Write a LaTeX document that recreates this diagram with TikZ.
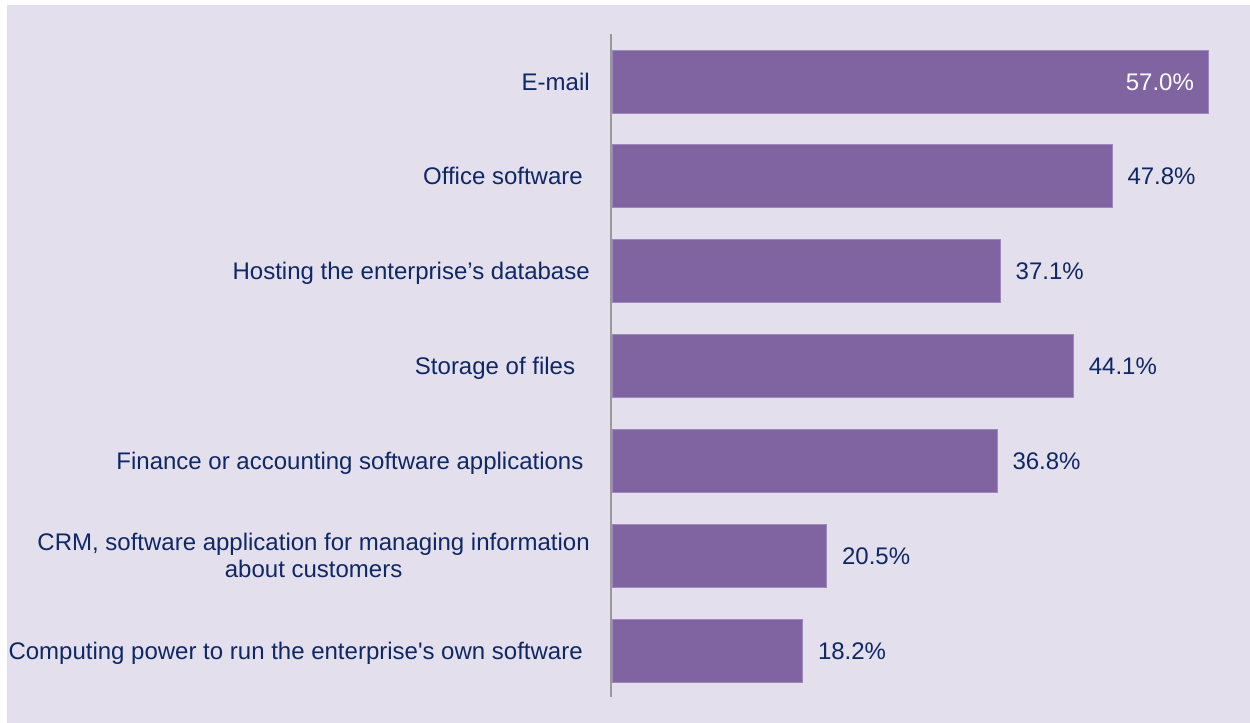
\documentclass[tikz,border=0pt]{standalone}
\usepackage{fontspec}
\setmainfont{Liberation Sans}
\usetikzlibrary{positioning}
\definecolor{chartbg}{HTML}{E4DFEC}
\definecolor{barfill}{HTML}{8064A2}
\definecolor{baredge}{HTML}{9C88BA}
\definecolor{labeltext}{HTML}{0E2866}
\definecolor{axisgray}{HTML}{999999}
\tikzset{
bar/.style={fill=barfill, draw=baredge, line width=0.6pt,
  minimum height=47.25pt, inner sep=0pt, anchor=west},
cat/.style={text=labeltext, inner sep=0pt, text height=12.9pt, text depth=0pt},
val/.style={cat},
%one percent is 7.842pt
}

\begin{document}
\begin{tikzpicture}[x=0.75pt,y=-0.75pt,font=\fontsize{18pt}{20.5pt}\selectfont]
\useasboundingbox (0,0) rectangle (1250,723);
\fill[white] (0,0) rectangle (1250,723);
\fill[chartbg] (7,5) rectangle (1250,723);

\node[bar, minimum width=57.0*7.842pt] (email) at (612,81.5) {};
\node[bar, minimum width=47.8*7.842pt] (office) at (612,176.3) {};
\node[bar, minimum width=37.1*7.842pt] (hosting) at (612,271.2) {};
\node[bar, minimum width=44.1*7.842pt] (storage) at (612,366) {};
\node[bar, minimum width=36.8*7.842pt] (finance) at (612,460.8) {};
\node[bar, minimum width=20.5*7.842pt] (crm) at (612,555.7) {};
\node[bar, minimum width=18.2*7.842pt] (computing) at (612,650.5) {};

\draw[axisgray, line width=1.5pt] (611,34) coordinate (axtop) -- (611,697) coordinate (axbot);

\node[cat, left=16.5pt of email.west] (lemail) {E-mail};
\node[cat, left=21.75pt of office.west] (loffice) {Office software};
\node[cat, left=16.5pt of hosting.west] (lhosting) {Hosting the enterprise’s database};
\node[cat, left=27.5pt of storage.west] (lstorage) {Storage of files};
\node[cat, left=21.25pt of finance.west] (lfinance) {Finance or accounting software applications};
\node[text=labeltext, inner sep=0pt, align=center, left=16.5pt of crm.west] (lcrm)
  {CRM, software application for managing information\\about customers};
\node[cat, left=21.75pt of computing.west] (lcomputing)
  {Computing power to run the enterprise\textquotesingle s own software};

\node[val, text=white, left=11pt of email.east] (vemail) {57.0\%};
\node[val, right=11pt of office.east] (voffice) {47.8\%};
\node[val, right=11pt of hosting.east] (vhosting) {37.1\%};
\node[val, right=11pt of storage.east] (vstorage) {44.1\%};
\node[val, right=11pt of finance.east] (vfinance) {36.8\%};
\node[val, right=11pt of crm.east] (vcrm) {20.5\%};
\node[val, right=11pt of computing.east] (vcomputing) {18.2\%};
\end{tikzpicture}
\end{document}
